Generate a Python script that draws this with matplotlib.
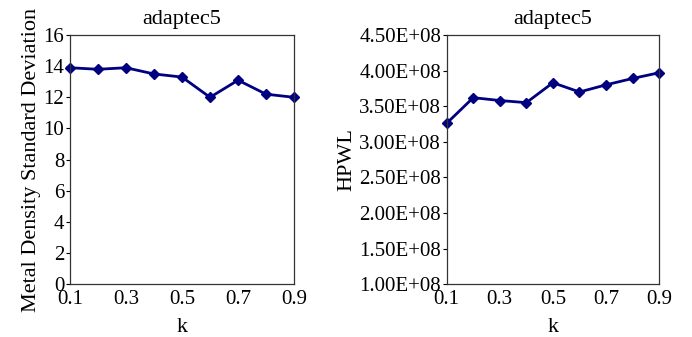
import matplotlib
matplotlib.use("Agg")
import matplotlib.pyplot as plt
from matplotlib.ticker import FuncFormatter

plt.rcParams['font.family'] = ['Liberation Serif', 'DejaVu Serif']

# ── data ──────────────────────────────────────────────────────────────────────
k_values   = [0.1, 0.2, 0.3, 0.4, 0.5, 0.6, 0.7, 0.8, 0.9]
metal_std  = [13.9, 13.8, 13.9, 13.5, 13.3, 12.0, 13.1, 12.2, 12.0]
hpwl       = [3.26e8, 3.62e8, 3.58e8, 3.55e8, 3.83e8, 3.70e8, 3.80e8, 3.89e8, 3.97e8]

x_ticks      = [0.1, 0.3, 0.5, 0.7, 0.9]
left_yticks  = [0, 2, 4, 6, 8, 10, 12, 14, 16]
right_yticks = [1.0e8, 1.5e8, 2.0e8, 2.5e8, 3.0e8, 3.5e8, 4.0e8, 4.5e8]
title        = "adaptec5"

LINE_COLOR = '#000080'
FS = 15

fig = plt.figure(figsize=(6.92, 3.37), dpi=100)
ax1 = fig.add_axes([0.101, 0.157, 0.324, 0.739])
ax2 = fig.add_axes([0.6455, 0.157, 0.307, 0.739])


def style_axes(ax):
    ax.set_xlim(0.1, 0.9)
    ax.set_xticks(x_ticks)
    ax.set_xticklabels([f"{v:.1f}" for v in x_ticks], fontsize=FS)
    ax.tick_params(axis='x', length=0, pad=4)
    ax.tick_params(axis='y', direction='out', length=3, width=0.8,
                   labelsize=FS, pad=1)
    for sp in ax.spines.values():
        sp.set_linewidth(0.9)
        sp.set_color('#333333')
    ax.set_title(title, fontsize=FS + 1, pad=8)
    ax.set_xlabel("k", fontsize=FS + 1, labelpad=7)


# ── left: metal density std ───────────────────────────────────────────────────
ax1.plot(k_values, metal_std, '-D', color=LINE_COLOR, linewidth=2,
         markersize=5.5, clip_on=False)
ax1.set_ylim(0, 16)
ax1.set_yticks(left_yticks)
style_axes(ax1)
ax1.set_ylabel("Metal Density Standard Deviation", fontsize=FS + 1, labelpad=2)

# ── right: HPWL ───────────────────────────────────────────────────────────────
ax2.plot(k_values, hpwl, '-D', color=LINE_COLOR, linewidth=2,
         markersize=5.5, clip_on=False)
ax2.set_ylim(1.0e8, 4.5e8)
ax2.set_yticks(right_yticks)
ax2.yaxis.set_major_formatter(FuncFormatter(lambda v, p: f"{v/1e8:.2f}E+08"))
style_axes(ax2)
ax2.set_ylabel("HPWL", fontsize=FS + 1, labelpad=2)

fig.savefig("out.png", dpi=100)
